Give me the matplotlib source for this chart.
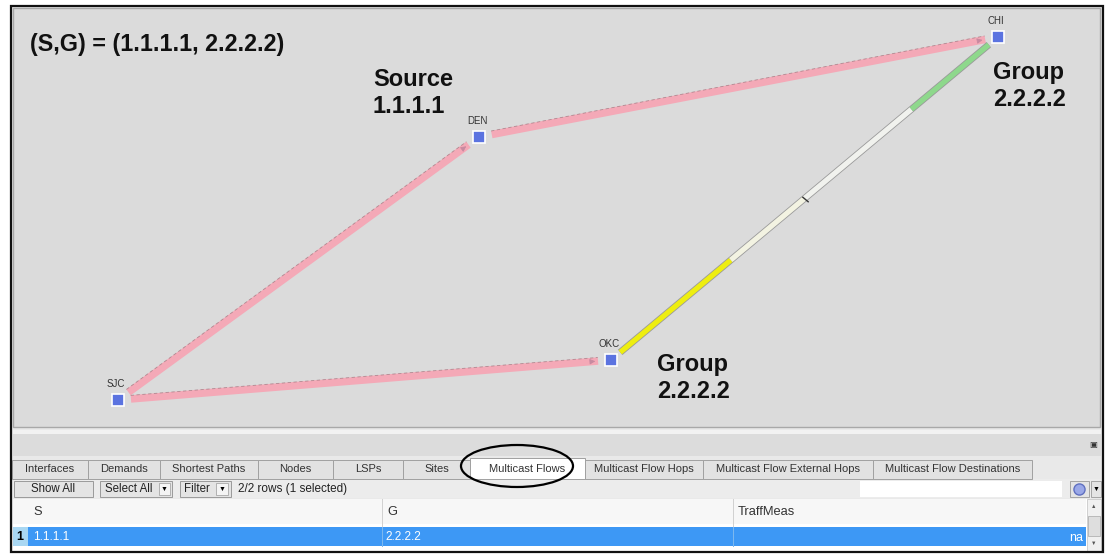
import numpy as np
import matplotlib.pyplot as plt
from matplotlib.patches import Rectangle, Ellipse

# map nodes (screen pixels)
node_names = ['CHI', 'DEN', 'OKC', 'SJC']
node_x = [998, 479, 611, 118]
node_y = [37, 137, 360, 400]

# pink links: (from, to)
links = [('SJC', 'DEN'), ('DEN', 'CHI'), ('SJC', 'OKC')]

# OKC -> CHI multicast path, split in coloured pieces (fraction along link)
seg_breaks = [0.0, 0.30, 0.50, 0.79, 1.0]
seg_colors = ['#eeee10', '#f3f3e2', '#f1f2ee', '#8ed88c']

# tabs
tab_labels = ['Interfaces', 'Demands', 'Shortest Paths', 'Nodes', 'LSPs', 'Sites',
              'Multicast Flows', 'Multicast Flow Hops', 'Multicast Flow External Hops',
              'Multicast Flow Destinations']
tab_edges = [12, 88, 160, 258, 333, 403, 470, 585, 703, 873, 1032]
selected_tab = 'Multicast Flows'

# table
col_names = ['S', 'G', 'TraffMeas']
col_edges = [28, 382, 733, 1086]
row_values = ['1.1.1.1', '2.2.2.2', 'na']

plt.rcParams['font.family'] = ['Liberation Sans', 'DejaVu Sans']

fig = plt.figure(figsize=(11.11, 5.56), dpi=100)
ax = fig.add_axes([0, 0, 1, 1])
ax.set_xlim(0, 1111)
ax.set_ylim(556, 0)
ax.axis('off')
fig.patch.set_facecolor('white')


def box(x0, y0, x1, y1, fc, ec='none', lw=0.8, z=1):
    ax.add_patch(Rectangle((x0, y0), x1 - x0, y1 - y0, facecolor=fc,
                           edgecolor=ec, linewidth=lw, zorder=z))


# panels
box(11, 6, 1103, 552, '#e9e9e9', z=0)
box(13, 8, 1100, 427, '#dbdbdb', ec='#a8a8a8', lw=1.0, z=1)
box(13, 430, 1101, 434, '#f2f2f2', z=1)
box(13, 434, 1101, 456, '#dcdcdc', z=1)
ax.text(1097, 446, '\u25a3', fontsize=6, ha='right', va='center', color='#333333')

pos = {n: (x, y) for n, x, y in zip(node_names, node_x, node_y)}


def trim(a, b, d0, d1):
    (x0, y0), (x1, y1) = pos[a], pos[b]
    v = np.array([x1 - x0, y1 - y0], float)
    L = np.hypot(*v)
    u = v / L
    return (x0 + u[0] * d0, y0 + u[1] * d0), (x0 + u[0] * (L - d1), y0 + u[1] * (L - d1)), u


for a, b in links:
    p0, p1, u = trim(a, b, 13, 13)
    nrm = np.array([-u[1], u[0]])
    ax.plot([p0[0], p1[0]], [p0[1], p1[1]], color='#f4a9b7', lw=5.4,
            solid_capstyle='butt', zorder=3)
    off = -3.6
    ax.plot([p0[0] + nrm[0] * off, p1[0] + nrm[0] * off],
            [p0[1] + nrm[1] * off, p1[1] + nrm[1] * off],
            color='#8a6a70', lw=0.6, ls=(0, (4, 3)), alpha=0.6, zorder=4)
    ax.annotate('', xy=p1, xytext=(p1[0] - u[0] * 10, p1[1] - u[1] * 10),
                arrowprops=dict(arrowstyle='-|>', color='#c78aa0', lw=0.6,
                                mutation_scale=8), zorder=5)

# OKC -> CHI
p0, p1, u = trim('OKC', 'CHI', 12, 12)
ax.plot([p0[0], p1[0]], [p0[1], p1[1]], color='#9a9a9a', lw=5.0,
        solid_capstyle='butt', zorder=3)
for i, c in enumerate(seg_colors):
    t0, t1 = seg_breaks[i], seg_breaks[i + 1]
    xs = [p0[0] + (p1[0] - p0[0]) * t0, p0[0] + (p1[0] - p0[0]) * t1]
    ys = [p0[1] + (p1[1] - p0[1]) * t0, p0[1] + (p1[1] - p0[1]) * t1]
    ax.plot(xs, ys, color=c, lw=3.8, solid_capstyle='butt', zorder=4)
tb = seg_breaks[2]
ax.plot([p0[0] + (p1[0] - p0[0]) * tb], [p0[1] + (p1[1] - p0[1]) * tb],
        marker=(2, 0, 50), color='#333333', ms=6, zorder=5)

# nodes
for n, x, y in zip(node_names, node_x, node_y):
    ax.plot(x, y, marker='s', ms=8, mfc='#5b73e0', mec='white', mew=1.2, zorder=6)
    ax.text(x - 2, y - 11, n, fontsize=7, ha='center', va='bottom',
            color='#333333', zorder=6)

# annotations
ax.text(30, 45, '(S,G) = (1.1.1.1, 2.2.2.2)', fontsize=16.8, fontweight='bold',
        ha='left', va='center', color='#111111')
ax.text(373, 93, 'Source\n1.1.1.1', fontsize=17, fontweight='bold', ha='left',
        va='center', linespacing=1.2, color='#111111')
ax.text(993, 86, 'Group\n2.2.2.2', fontsize=17, fontweight='bold', ha='left',
        va='center', linespacing=1.2, color='#111111')
ax.text(657, 378, 'Group\n2.2.2.2', fontsize=17, fontweight='bold', ha='left',
        va='center', linespacing=1.2, color='#111111')

# tabs
for i, lab in enumerate(tab_labels):
    x0, x1 = tab_edges[i], tab_edges[i + 1]
    sel = lab == selected_tab
    box(x0, 458 if sel else 460, x1, 479, 'white' if sel else '#e2e2e2',
        ec='#a0a0a0', lw=0.7, z=2)
    ax.text((x0 + x1) / 2, 469, lab, fontsize=8, ha='center', va='center',
            color='#333333', zorder=3)
ax.add_patch(Ellipse((517, 466), 112, 42, facecolor='none', edgecolor='black',
                     lw=1.6, zorder=7))

# toolbar
box(13, 479, 1101, 498, '#ececec', z=1)
box(14, 481, 93, 497, '#e4e4e4', ec='#9a9a9a', lw=0.7, z=2)
ax.text(53, 489, 'Show All', fontsize=8.3, ha='center', va='center', color='#222222', zorder=3)
box(100, 481, 172, 497, '#e4e4e4', ec='#9a9a9a', lw=0.7, z=2)
ax.text(105, 489, 'Select All', fontsize=8.3, ha='left', va='center', color='#222222', zorder=3)
box(159, 483, 170, 495, '#f4f4f4', ec='#9a9a9a', lw=0.5, z=3)
ax.text(164.5, 489, '\u25bc', fontsize=5, ha='center', va='center', zorder=4)
box(180, 481, 231, 497, '#e4e4e4', ec='#9a9a9a', lw=0.7, z=2)
ax.text(184, 489, 'Filter', fontsize=8.3, ha='left', va='center', color='#222222', zorder=3)
box(216, 483, 228, 495, '#f4f4f4', ec='#9a9a9a', lw=0.5, z=3)
ax.text(222, 489, '\u25bc', fontsize=5, ha='center', va='center', zorder=4)
ax.text(238, 489, '2/2 rows (1 selected)', fontsize=8.5, ha='left', va='center',
        color='#222222', zorder=3)
box(860, 481, 1062, 497, 'white', z=2)
box(1070, 481, 1089, 497, '#e4e4e4', ec='#9a9a9a', lw=0.6, z=2)
ax.plot(1079, 489, marker='o', ms=8, mfc='#9aa8e8', mec='#6070c0', mew=1, zorder=3)
box(1091, 481, 1101, 497, '#e4e4e4', ec='#9a9a9a', lw=0.6, z=2)
ax.text(1096, 489, '\u25bc', fontsize=5, ha='center', va='center', zorder=4)

# table
box(13, 499, 1101, 551, 'white', z=1)
box(13, 499, 1086, 524, '#f7f7f7', z=2)
for cx, name in zip(col_edges[:-1], col_names):
    ax.text(cx + 5, 512, name, fontsize=9.3, ha='left', va='center', color='#333333', zorder=3)
for cx in col_edges[1:-1]:
    ax.plot([cx, cx], [499, 546], color='#d0d0d0', lw=0.7, zorder=4)
box(13, 527, 28, 546, '#a9d7f2', z=2)
ax.text(20, 537, '1', fontsize=9, fontweight='bold', ha='center', va='center', zorder=3)
box(28, 527, 1086, 546, '#3d98f5', z=2)
ax.text(col_edges[0] + 5, 537, row_values[0], fontsize=8.5, ha='left', va='center',
        color='white', zorder=3)
ax.text(col_edges[1] + 3, 537, row_values[1], fontsize=8.5, ha='left', va='center',
        color='white', zorder=3)
ax.text(col_edges[3] - 3, 538, row_values[2], fontsize=9, ha='right', va='center',
        color='white', zorder=3)
for cx in col_edges[1:-1]:
    ax.plot([cx, cx], [527, 546], color='#7ab8f0', lw=0.7, zorder=4)
# scrollbar
box(1087, 499, 1101, 551, '#f0f0f0', ec='#c0c0c0', lw=0.5, z=2)
box(1088, 516, 1100, 536, '#dedede', ec='#a8a8a8', lw=0.5, z=3)
ax.text(1094, 507, '\u25b2', fontsize=4, ha='center', va='center', color='#555555', zorder=4)
ax.text(1094, 543, '\u25bc', fontsize=4, ha='center', va='center', color='#555555', zorder=4)

# outer frame
box(11, 6, 1103, 552, 'none', ec='#111111', lw=1.6, z=8)

fig.savefig('out.png', dpi=100)
